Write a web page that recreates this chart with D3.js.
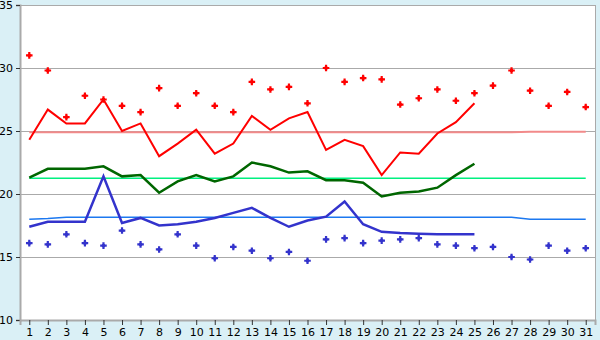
<!DOCTYPE html>
<html><head><meta charset="utf-8">
<script src="https://cdn.jsdelivr.net/npm/d3@7"></script>
<style>body{margin:0;background:#daf0f6}svg{display:block}</style>
</head><body>
<svg id="c" width="600" height="340"></svg>
<script>
const days = d3.range(1, 32);
const yTicks = [10, 15, 20, 25, 30, 35];
const maxMarks = [31.0,29.8,26.1,27.8,27.5,27.0,26.5,28.4,27.0,28.0,27.0,26.5,28.9,28.3,28.5,27.2,30.0,28.9,29.2,29.1,27.1,27.6,28.3,27.4,28.0,28.6,29.8,28.2,27.0,28.1,26.9];
const minMarks = [16.1,16.0,16.8,16.1,15.9,17.1,16.0,15.6,16.8,15.9,14.9,15.8,15.5,14.9,15.4,14.7,16.4,16.5,16.1,16.3,16.4,16.5,16.0,15.9,15.7,15.8,15.0,14.8,15.9,15.5,15.7];
const maxLine = [24.3,26.7,25.6,25.6,27.5,25.0,25.6,23.0,24.0,25.1,23.2,24.0,26.2,25.1,26.0,26.5,23.5,24.3,23.8,21.5,23.3,23.2,24.8,25.7,27.2];
const avgLine = [21.3,22.0,22.0,22.0,22.2,21.4,21.5,20.1,21.0,21.5,21.0,21.4,22.5,22.2,21.7,21.8,21.1,21.1,20.9,19.8,20.1,20.2,20.5,21.5,22.4];
const minLine = [17.4,17.8,17.8,17.8,21.4,17.7,18.1,17.5,17.6,17.8,18.1,18.5,18.9,18.1,17.4,17.9,18.2,19.4,17.6,17.0,16.9,16.85,16.8,16.8,16.8];
const normMax = [24.9,24.9,24.9,24.9,24.9,24.9,24.9,24.9,24.9,24.9,24.9,24.9,24.9,24.9,24.9,24.9,24.9,24.9,24.9,24.9,24.9,24.9,24.9,24.9,24.9,24.9,24.9,24.95,24.95,24.95,24.95];
const normAvg = Array(31).fill(21.25);
const normMin = [18.0,18.05,18.15,18.15,18.15,18.15,18.15,18.15,18.15,18.15,18.15,18.15,18.15,18.15,18.15,18.15,18.15,18.15,18.15,18.15,18.15,18.15,18.15,18.15,18.15,18.15,18.15,18.0,18.0,18.0,18.0];

const svg = d3.select("#c");
const L = 20, R = 595, T = 5, B = 320;
const x = d3.scalePoint().domain(days).range([L, R]).padding(0.5);
const y = d3.scaleLinear().domain([10, 35]).range([B, T]);

svg.append("rect").attr("x", L).attr("y", T).attr("width", R - L).attr("height", B - T).attr("fill", "#fff");

// grid
svg.append("g").selectAll("line").data(yTicks.filter(d => d > 10)).join("line")
  .attr("x1", L).attr("x2", R).attr("y1", d => Math.round(y(d)) + 0.5).attr("y2", d => Math.round(y(d)) + 0.5)
  .attr("stroke", "#aaaaaa").attr("stroke-width", 1);
svg.append("line").attr("x1", R + 0.5).attr("x2", R + 0.5).attr("y1", T).attr("y2", B).attr("stroke", "#aaaaaa");

const line = d3.line().x((d, i) => x(i + 1)).y(d => y(d));

svg.append("path").datum(normMax).attr("d", line).attr("fill", "none").attr("stroke", "#f28a8a").attr("stroke-width", 2);
svg.append("path").datum(normAvg).attr("d", line).attr("fill", "none").attr("stroke", "#00f080").attr("stroke-width", 1.5);
svg.append("path").datum(normMin).attr("d", line).attr("fill", "none").attr("stroke", "#1c78f0").attr("stroke-width", 1.5);

svg.append("path").datum(maxLine).attr("d", line).attr("fill", "none").attr("stroke", "#ff0000").attr("stroke-width", 2);
svg.append("path").datum(avgLine).attr("d", line).attr("fill", "none").attr("stroke", "#006600").attr("stroke-width", 2.5);
svg.append("path").datum(minLine).attr("d", line).attr("fill", "none").attr("stroke", "#3333cc").attr("stroke-width", 2.5);

const sym = d3.symbol().type(d3.symbolCross).size(24);
const sym2 = d3.symbol().type(d3.symbolSquare).size(9);
function marks(data, color) {
  const g = svg.append("g").selectAll("g").data(data).join("g")
    .attr("transform", (d, i) => `translate(${x(i + 1)},${y(d)})`);
  g.append("path").attr("d", sym).attr("fill", color);
  g.append("path").attr("d", sym2).attr("fill", color);
}
marks(maxMarks, "#ff0000");
marks(minMarks, "#3333cc");

// axes
const ya = svg.append("g").attr("transform", `translate(${L},0)`)
  .call(d3.axisLeft(y).tickValues(yTicks).tickSize(4).tickPadding(3));
ya.select(".domain").attr("stroke", "#aaaaaa").attr("stroke-width", 2);
ya.selectAll(".tick line").attr("stroke", "#333");
ya.selectAll("text").attr("font-family", "DejaVu Sans, Verdana, sans-serif").attr("font-size", 11).attr("fill", "#000");

const xa = svg.append("g").attr("transform", `translate(0,${B})`)
  .call(d3.axisBottom(x).tickSize(5).tickPadding(3));
xa.select(".domain").attr("stroke", "#aaaaaa").attr("stroke-width", 2);
xa.selectAll(".tick line").attr("stroke", "#333");
xa.selectAll("text").attr("font-family", "DejaVu Sans, Verdana, sans-serif").attr("font-size", 11).attr("fill", "#000");
</script>
</body></html>
